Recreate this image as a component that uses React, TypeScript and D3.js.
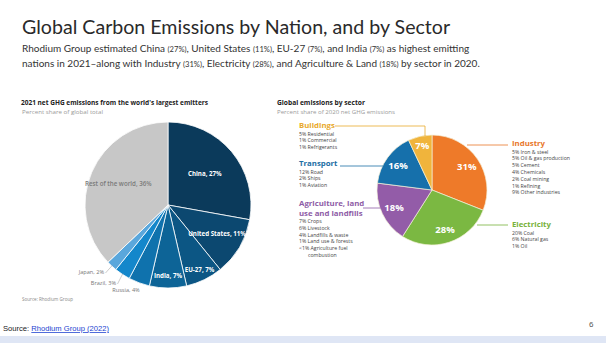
import React from "react";
import * as d3 from "d3";

const nations = ["China", "United States", "EU-27", "India", "Russia", "Brazil", "Japan", "Rest of the world"];
const nationShares = [27, 11, 7, 7, 4, 3, 2, 36];
const nationColors = ["#0b3a5b", "#0c4870", "#0c5684", "#0d6497", "#0f72ad", "#1487cb", "#5aa7dc", "#c7c7c7"];

const sectors = ["Industry", "Electricity", "Agriculture", "Transport", "Buildings"];
const sectorShares = [31, 28, 18, 16, 7];
const sectorColors = ["#ee7a29", "#7bb842", "#935ca8", "#1670ab", "#f0b43c"];
const sectorTextColors = ["#e8762a", "#77b13a", "#8e5ca6", "#1c6ea4", "#e8a92c"];
const sectorTitles = [["Industry"], ["Electricity"], ["Agriculture, land", "use and landfills"], ["Transport"], ["Buildings"]];
const sectorDetails = [
  ["5% Iron & steel", "5% Oil & gas production", "5% Cement", "4% Chemicals", "2% Coal mining", "1% Refining", "9% Other industries"],
  ["20% Coal", "6% Natural gas", "1% Oil"],
  ["7% Crops", "6% Livestock", "4% Landfills & waste", "1% Land use & forests", "<1% Agriculture fuel", "combustion"],
  ["12% Road", "2% Ships", "1% Aviation"],
  ["5% Residential", "1% Commercial", "1% Refrigerants"],
];

const W = 606, H = 343;

export default function App() {
  const pieGen = d3.pie<number>().sort(null).value((d) => d);
  const nArcs = pieGen(nationShares);
  const sArcs = pieGen(sectorShares);

  const L = { cx: 168, cy: 205, r: 83 };
  const R = { cx: 432, cy: 190, r: 55 };
  const arcL = d3.arc<any>().innerRadius(0).outerRadius(L.r);
  const arcR = d3.arc<any>().innerRadius(0).outerRadius(R.r);

  const nLabelR = [48, 57, 72, 71, 0, 0, 0, 54];
  const pt = (a: any, r: number) => {
    const m = (a.startAngle + a.endAngle) / 2;
    return [Math.sin(m) * r, -Math.cos(m) * r];
  };

  const outside: Record<number, { x: number; y: number; anchor: string; line?: boolean }> = {
    4: { x: 126, y: 292, anchor: "middle" },
    5: { x: 116, y: 285, anchor: "end", line: true },
    6: { x: 104, y: 274, anchor: "end", line: true },
  };

  const ann = [
    { x: 512, y: 146, line: [[467, 145], [508, 145]] },
    { x: 512, y: 227, line: [[477, 225], [508, 225]] },
    { x: 299, y: 206, line: [[363, 208], [381, 208]] },
    { x: 299, y: 166, line: [[340, 166], [383, 166]] },
    { x: 299, y: 128, line: [[335, 126], [425, 126], [425, 136]] },
  ];

  return (
    <svg width={W} height={H} style={{ position: "absolute", left: 0, top: 0, background: "#fff" }}>
      <rect x={0} y={0} width={W} height={H} fill="#fff" />
      <text x={22} y={34} fontFamily="Lato" fontWeight={400} fontSize={19.6} fill="#2a2a2a">Global Carbon Emissions by Nation, and by Sector</text>
      <text x={22} y={52} fontFamily="Lato" fontSize={10} fill="#333">
        Rhodium Group estimated China <tspan fontSize={7.6}>(27%)</tspan>, United States <tspan fontSize={7.6}>(11%)</tspan>, EU-27 <tspan fontSize={7.6}>(7%)</tspan>, and India <tspan fontSize={7.6}>(7%)</tspan> as highest emitting
      </text>
      <text x={22} y={67} fontFamily="Lato" fontSize={10} fill="#333">
        nations in 2021–along with Industry <tspan fontSize={7.6}>(31%)</tspan>, Electricity <tspan fontSize={7.6}>(28%)</tspan>, and Agriculture &amp; Land <tspan fontSize={7.6}>(18%)</tspan> by sector in 2020.
      </text>

      <text x={21} y={105} fontFamily="Open Sans" fontWeight={700} fontSize={6.6} fill="#222" textLength={187} lengthAdjust="spacingAndGlyphs">2021 net GHG emissions from the world's largest emitters</text>
      <text x={22} y={114} fontFamily="Open Sans" fontSize={5.6} fill="#9a9a9a" textLength={81} lengthAdjust="spacingAndGlyphs">Percent share of global total</text>
      <g transform={`translate(${L.cx},${L.cy})`}>
        {nArcs.map((a, i) => (
          <path key={i} d={arcL(a) as string} fill={nationColors[i]} stroke="#fff" strokeWidth={0.8} />
        ))}
        {nArcs.map((a, i) => {
          if (nLabelR[i] === 0) return null;
          const [x, y] = pt(a, nLabelR[i]);
          return (
            <text key={i} x={x} y={y} dy="0.35em" textAnchor="middle" fontFamily="Open Sans" fontWeight={i === 7 ? 600 : 700}
              fontSize={6.2} fill={i === 7 ? "#7a7a7a" : "#fff"}>
              {nations[i]}, {nationShares[i]}%
            </text>
          );
        })}
      </g>
      {nArcs.map((a, i) => {
        const o = outside[i];
        if (!o) return null;
        const [ex, ey] = pt(a, L.r - 1);
        return (
          <g key={i}>
            {o.line && <line x1={o.x + 1.5} y1={o.y - 1} x2={L.cx + ex} y2={L.cy + ey} stroke="#999" strokeWidth={0.5} />}
            <text x={o.x} y={o.y} textAnchor={o.anchor} fontFamily="Open Sans" fontSize={5.6} fill="#777">
              {nations[i]}, {nationShares[i]}%
            </text>
          </g>
        );
      })}
      <text x={22} y={301} fontFamily="Open Sans" fontSize={4.8} fill="#888" textLength={51} lengthAdjust="spacingAndGlyphs">Source: Rhodium Group</text>

      <text x={277} y={105} fontFamily="Open Sans" fontWeight={700} fontSize={6.6} fill="#222" textLength={88} lengthAdjust="spacingAndGlyphs">Global emissions by sector</text>
      <text x={277} y={114} fontFamily="Open Sans" fontSize={5.6} fill="#9a9a9a" textLength={118} lengthAdjust="spacingAndGlyphs">Percent share of 2020 net GHG emissions</text>
      <g transform={`translate(${R.cx},${R.cy})`}>
        {sArcs.map((a, i) => (
          <path key={i} d={arcR(a) as string} fill={sectorColors[i]} stroke="#f4f0d8" strokeWidth={0.7} />
        ))}
        {sArcs.map((a, i) => {
          const [x, y] = pt(a, i === 4 ? 45 : 42);
          return (
            <text key={i} x={x} y={y} dy="0.35em" textAnchor="middle" fontFamily="Open Sans" fontWeight={700} fontSize={9.5} fill="#fff">
              {sectorShares[i]}%
            </text>
          );
        })}
      </g>
      {ann.map((a, i) => (
        <g key={i}>
          <polyline points={a.line.map((p) => p.join(",")).join(" ")} fill="none" stroke={sectorTextColors[i]} strokeWidth={0.8} />
          {sectorTitles[i].map((t, j) => (
            <text key={j} x={a.x} y={a.y + j * 9.5} fontFamily="Open Sans" fontWeight={700} fontSize={7.8} fill={sectorTextColors[i]}>{t}</text>
          ))}
          {sectorDetails[i].map((t, j) => (
            <text key={"d" + j} x={a.x + (t === "combustion" ? 9 : 0)} y={a.y + (sectorTitles[i].length - 1) * 9.5 + 7.5 + j * 6.8}
              fontFamily="Open Sans" fontSize={5.2} fill="#444">{t}</text>
          ))}
        </g>
      ))}

      <text x={3} y={331} fontFamily="Liberation Sans" fontSize={7.6} fill="#222">
        Source: <tspan fill="#1a3fd0" textDecoration="underline">Rhodium Group (2022)</tspan>
      </text>
      <text x={589} y={327} fontFamily="Liberation Sans" fontSize={8} fill="#555">6</text>
      <rect x={0} y={336} width={W} height={7} fill="#dfe6f5" />
    </svg>
  );
}
